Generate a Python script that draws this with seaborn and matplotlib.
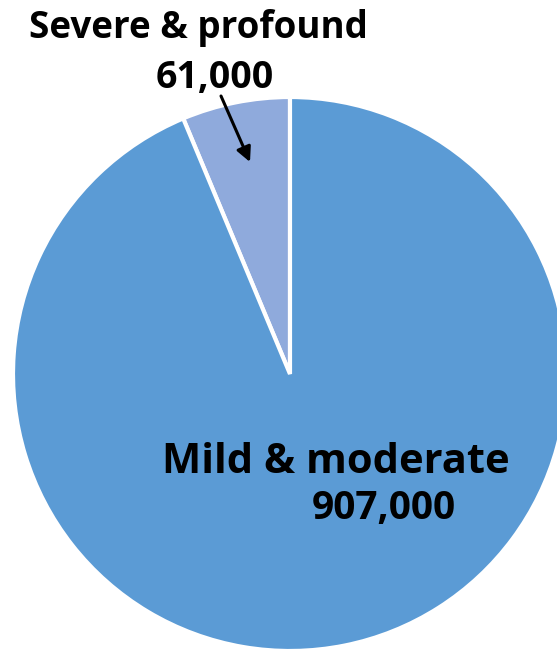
import matplotlib
matplotlib.use("Agg")
import matplotlib.pyplot as plt
import seaborn as sns

# Hearing loss severity, number of people
categories = ["Severe & profound", "Mild & moderate"]
counts = [61000, 907000]
count_labels = ["61,000", "907,000"]
colors = ["#8FAADC", "#5B9BD5"]

sns.set_theme(style="white")
plt.rcParams["font.family"] = ["Open Sans", "DejaVu Sans"]

W, H = 557, 651
fig = plt.figure(figsize=(W / 100, H / 100), dpi=100)
ax = fig.add_axes([0, 0, 1, 1])

cx, cy, r = 290, H - 374, 277
ax.pie(counts, colors=colors, startangle=90, counterclock=True,
       center=(cx, cy), radius=r,
       wedgeprops=dict(edgecolor="white", linewidth=3), frame=True)
ax.set_xlim(0, W)
ax.set_ylim(0, H)
ax.set_aspect("equal", adjustable="box")
ax.axis("off")

txt = dict(fontweight="bold", color="black", ha="center", va="baseline")
ax.text(198, H - 38, categories[0], fontsize=26.5, **txt)
ax.text(215, H - 88, count_labels[0], fontsize=27, **txt)
ax.text(336, H - 473, categories[1], fontsize=30, **txt)
ax.text(384, H - 519, count_labels[1], fontsize=28, **txt)

ax.annotate("", xy=(250, H - 162), xytext=(221, H - 96),
            arrowprops=dict(arrowstyle="-|>", color="black", lw=2.2,
                            mutation_scale=22, shrinkA=0, shrinkB=0))

fig.savefig("out.png", dpi=100)
